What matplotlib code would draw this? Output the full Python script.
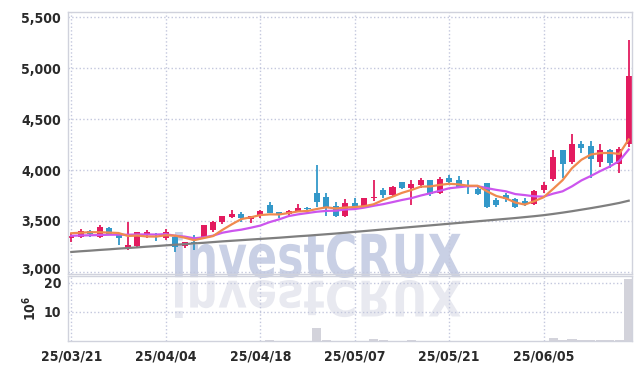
import matplotlib
matplotlib.use('Agg')
import matplotlib.pyplot as plt
from matplotlib.textpath import TextPath
from matplotlib.patches import PathPatch
from matplotlib.font_manager import FontProperties
from matplotlib.transforms import Affine2D
import numpy as np

# ---------------- data ----------------
tick_pos = [0, 10, 20, 30, 40, 50]
tick_labels = ['25/03/21', '25/04/04', '25/04/18', '25/05/07', '25/05/21', '25/06/05']

opens = [3330, 3346, 3402, 3340, 3428, 3370, 3235, 3250, 3375, 3375,
         3330, 3346, 3250, 3290, 3346, 3412, 3490, 3540, 3568, 3518,
         3560, 3655, 3585, 3568, 3602, 3625, 3770, 3738, 3647, 3545,
         3673, 3632, 3730, 3803, 3755, 3880, 3828, 3853, 3902, 3771,
         3925, 3900, 3853, 3810, 3869, 3705, 3755, 3713, 3698, 3664,
         3804, 3912, 4196, 4075, 4255, 4232, 4081, 4196, 4062, 4252]
highs = [3380, 3420, 3412, 3465, 3440, 3375, 3490, 3395, 3410, 3385,
         3420, 3350, 3295, 3365, 3462, 3495, 3552, 3608, 3590, 3552,
         3605, 3685, 3590, 3608, 3668, 3635, 4050, 3772, 3690, 3713,
         3722, 3725, 3902, 3820, 3846, 3885, 3902, 3925, 3905, 3935,
         3950, 3941, 3902, 3830, 3872, 3728, 3771, 3722, 3722, 3800,
         3885, 4196, 4200, 4353, 4284, 4284, 4255, 4206, 4229, 5275]
lows = [3290, 3335, 3340, 3335, 3360, 3260, 3215, 3245, 3335, 3300,
        3315, 3200, 3232, 3215, 3340, 3395, 3470, 3530, 3490, 3478,
        3528, 3578, 3528, 3545, 3590, 3595, 3640, 3545, 3540, 3540,
        3610, 3628, 3697, 3722, 3738, 3812, 3657, 3820, 3745, 3765,
        3870, 3820, 3762, 3755, 3632, 3634, 3690, 3625, 3648, 3660,
        3778, 3895, 3919, 4062, 4163, 3919, 4032, 4017, 3968, 4229]
closes = [3350, 3405, 3370, 3440, 3365, 3330, 3262, 3390, 3395, 3360,
          3395, 3240, 3290, 3275, 3460, 3493, 3548, 3565, 3528, 3548,
          3600, 3582, 3560, 3598, 3630, 3618, 3682, 3642, 3545, 3673,
          3642, 3722, 3738, 3755, 3836, 3828, 3862, 3902, 3765, 3912,
          3886, 3830, 3838, 3765, 3635, 3658, 3714, 3635, 3664, 3797,
          3853, 4124, 4062, 4255, 4213, 4105, 4196, 4069, 4206, 4922]

ma_short = [3380, 3385, 3390, 3390, 3386, 3382, 3353, 3357, 3348, 3347,
            3360, 3356, 3336, 3312, 3332, 3352, 3413, 3468, 3519, 3536,
            3558, 3565, 3564, 3578, 3594, 3598, 3618, 3634, 3623, 3632,
            3637, 3645, 3664, 3706, 3739, 3776, 3804, 3837, 3839, 3854,
            3865, 3859, 3846, 3846, 3791, 3745, 3722, 3681, 3661, 3694,
            3733, 3815, 3900, 4018, 4101, 4152, 4166, 4168, 4158, 4300]
ma_mid = [3355, 3358, 3360, 3362, 3365, 3366, 3365, 3368, 3368, 3367,
          3371, 3355, 3347, 3330, 3340, 3356, 3385, 3402, 3415, 3434,
          3455, 3489, 3516, 3548, 3565, 3578, 3591, 3599, 3601, 3613,
          3617, 3631, 3649, 3665, 3685, 3706, 3724, 3750, 3772, 3796,
          3821, 3831, 3841, 3842, 3822, 3805, 3791, 3764, 3754, 3742,
          3739, 3768, 3791, 3840, 3898, 3942, 3990, 4034, 4088, 4201]
ma_long = [3196, 3203, 3209, 3216, 3222, 3229, 3235, 3241, 3248, 3254,
           3261, 3267, 3273, 3280, 3286, 3293, 3300, 3306, 3312, 3318,
           3324, 3330, 3336, 3343, 3350, 3356, 3363, 3370, 3377, 3385,
           3393, 3401, 3409, 3417, 3425, 3433, 3441, 3449, 3457, 3465,
           3473, 3481, 3489, 3497, 3505, 3513, 3521, 3529, 3538, 3547,
           3557, 3569, 3582, 3596, 3611, 3626, 3642, 3659, 3677, 3699]

volume = [0.1, 0.1, 0.1, 0.1, 0.1, 0.1, 0.1, 0.1, 0.1, 0.1,
          0.1, 0.1, 0.1, 0.1, 0.1, 0.1, 0.1, 0.1, 0.1, 0.1,
          0.1, 0.4, 0.1, 0.1, 0.1, 0.1, 4.6, 0.4, 0.1, 0.1,
          0.1, 0.1, 0.7, 0.4, 0.1, 0.1, 0.4, 0.1, 0.1, 0.1,
          0.1, 0.1, 0.1, 0.1, 0.1, 0.1, 0.1, 0.1, 0.1, 0.1,
          0.1, 1.1, 0.5, 0.7, 0.35, 0.35, 0.35, 0.35, 0.35, 21.3]

price_ticks = [3000, 3500, 4000, 4500, 5000, 5500]
vol_ticks = [10, 20]

# ---------------- style ----------------
UP = '#e31b5f'
DOWN = '#3398c9'
GRID = '#c3c7dd'
SPINE = '#d0d2dc'
TXT = '#2a2a2a'
plt.rcParams['font.family'] = ['DejaVu Sans']
plt.rcParams['font.stretch'] = 'condensed'
plt.rcParams['font.weight'] = 'bold'

W, H = 642, 369
fig = plt.figure(figsize=(W / 100, H / 100), dpi=100, facecolor='white')

L, R = 68 / W, 632 / W
ax = fig.add_axes([L, 1 - 274 / H, R - L, (274 - 12) / H], facecolor='none')
axv = fig.add_axes([L, 1 - 341 / H, R - L, (341 - 276) / H], facecolor='none', sharex=ax)

# watermark (figure level, behind everything)
fp = FontProperties(family=['DejaVu Sans'], weight='bold', stretch='condensed')
tp = TextPath((0, 0), 'investCRUX', size=1, prop=fp)
ext = tp.get_extents()
sx = 286 / ext.width
sy = 46 / ext.height
tr = Affine2D().translate(-ext.x0, -ext.y0).scale(sx, sy).translate(175, H - 278)
fig.add_artist(PathPatch(tr.transform_path(tp), facecolor='#c9d0e5', edgecolor='none',
                         transform=None, zorder=-2))
sy2 = 38 / ext.height
tr2 = Affine2D().translate(-ext.x0, -ext.y0).scale(sx, -sy2).translate(175, H - 280)
fig.add_artist(PathPatch(tr2.transform_path(tp), facecolor='#e8e9f0', edgecolor='none',
                         transform=None, zorder=-2))

x = np.arange(len(closes))
for i in x:
    o, h, l, c = opens[i], highs[i], lows[i], closes[i]
    col = UP if c >= o else DOWN
    ax.vlines(i, l, h, color=col, lw=1.3, zorder=2)
    body = max(abs(c - o), 8)
    ax.bar(i, body, bottom=min(o, c), width=0.64, color=col, zorder=2, linewidth=0)

ax.plot(x, ma_long, color='#7f7f7f', lw=1.6, zorder=3)
ax.plot(x, ma_mid, color='#cc55ee', lw=1.6, zorder=3)
ax.plot(x, ma_short, color='#f08a4e', lw=1.6, zorder=3)

ax.set_ylim(2980, 5550)
ax.set_xlim(-0.35, 59.35)
ax.set_yticks(price_ticks)
ax.set_yticklabels([f'{v:,}' for v in price_ticks])
ax.grid(True, color=GRID, linestyle=':', linewidth=1)
ax.tick_params(axis='both', length=0, labelsize=10, colors=TXT, pad=5)
ax.tick_params(axis='x', labelbottom=False)
for s in ax.spines.values():
    s.set_color(SPINE)
    s.set_linewidth(1)

axv.bar(x, volume, width=0.96, color='#d3d3db', linewidth=0, zorder=2)
axv.set_ylim(0, 22.4)
axv.set_yticks(vol_ticks)
axv.set_yticklabels([str(v) for v in vol_ticks])
axv.set_xticks(tick_pos)
axv.set_xticklabels(tick_labels)
axv.grid(True, color=GRID, linestyle=':', linewidth=1)
axv.tick_params(axis='both', length=0, labelsize=10, colors=TXT, pad=5)
axv.tick_params(axis='x', pad=6)
axv.set_ylabel('$10^6$', color=TXT, fontsize=10, fontweight='normal', labelpad=3)
for s in axv.spines.values():
    s.set_color(SPINE)
    s.set_linewidth(1)

# nudge the lowest price label up a little so it clears the volume label
for lab in ax.get_yticklabels():
    if lab.get_text() == '3,000':
        lab.set_transform(lab.get_transform() + Affine2D().translate(0, 3))

fig.savefig('out.png', dpi=100, facecolor='white')
